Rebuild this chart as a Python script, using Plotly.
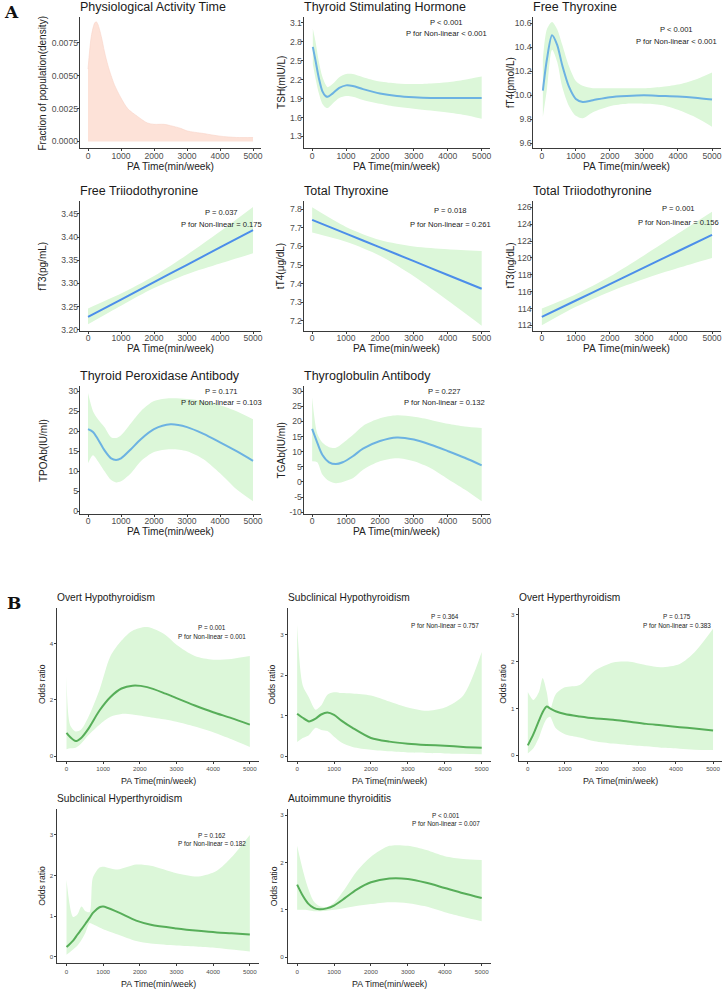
import plotly.graph_objects as go

W, H = 727, 991

# ---------------- data ----------------
dens_x = [0, 100, 200, 250, 300, 400, 500, 600, 700, 800, 1000, 1200, 1500, 1800, 2000, 2300, 2500, 2800, 3000, 3500, 4000, 4500, 5000]
dens_y = [0.0055, 0.0080, 0.0090, 0.0091, 0.0089, 0.0080, 0.0068, 0.0058, 0.0050, 0.0043, 0.0033, 0.0025, 0.0019, 0.0014, 0.0013, 0.0013, 0.0012, 0.0010, 0.0008, 0.0006, 0.0004, 0.0003, 0.0003]

tsh_x = [20, 100, 200, 300, 400, 460, 600, 800, 1000, 1200, 1500, 2000, 2500, 3000, 3500, 4000, 4500, 5000]
tsh_fit = [2.72, 2.50, 2.22, 2.02, 1.94, 1.93, 1.98, 2.07, 2.11, 2.10, 2.05, 1.98, 1.94, 1.92, 1.91, 1.91, 1.91, 1.91]
tsh_hi = [3.01, 2.80, 2.48, 2.25, 2.12, 2.08, 2.13, 2.24, 2.29, 2.29, 2.24, 2.17, 2.14, 2.13, 2.14, 2.16, 2.20, 2.25]
tsh_lo = [2.45, 2.22, 1.98, 1.82, 1.76, 1.75, 1.82, 1.91, 1.94, 1.93, 1.88, 1.82, 1.77, 1.74, 1.71, 1.68, 1.64, 1.58]

ft4_x = [30, 150, 300, 450, 600, 800, 1000, 1200, 1500, 2000, 2500, 3000, 3500, 4000, 4500, 5000]
ft4_fit = [10.04, 10.30, 10.50, 10.42, 10.25, 10.07, 9.97, 9.945, 9.96, 9.985, 9.995, 10.0, 9.995, 9.99, 9.98, 9.965]
ft4_hi = [10.30, 10.55, 10.61, 10.55, 10.42, 10.24, 10.12, 10.08, 10.06, 10.06, 10.06, 10.06, 10.07, 10.09, 10.13, 10.19]
ft4_lo = [9.82, 10.05, 10.38, 10.28, 10.07, 9.91, 9.83, 9.81, 9.86, 9.91, 9.93, 9.93, 9.92, 9.88, 9.82, 9.74]

ft3_x = [0, 1000, 2000, 3000, 4000, 5000]
ft3_fit = [3.228, 3.265, 3.303, 3.340, 3.378, 3.415]
ft3_hi = [3.246, 3.278, 3.316, 3.362, 3.412, 3.465]
ft3_lo = [3.212, 3.252, 3.290, 3.320, 3.343, 3.365]

tt4_x = [0, 1000, 2000, 3000, 4000, 5000]
tt4_fit = [7.743, 7.669, 7.595, 7.521, 7.447, 7.373]
tt4_hi = [7.81, 7.705, 7.635, 7.60, 7.585, 7.575]
tt4_lo = [7.675, 7.625, 7.55, 7.44, 7.31, 7.175]

tt3_x = [0, 1000, 2000, 3000, 4000, 5000]
tt3_fit = [113.0, 114.95, 116.9, 118.85, 120.8, 122.75]
tt3_hi = [114.0, 115.7, 117.8, 120.3, 122.9, 125.5]
tt3_lo = [112.0, 114.2, 116.0, 117.5, 118.8, 120.0]

tpo_x = [0, 150, 300, 500, 700, 850, 1000, 1300, 1600, 2000, 2500, 3000, 3500, 4000, 4500, 5000]
tpo_fit = [20.5, 19.8, 18.0, 15.2, 13.2, 12.8, 13.2, 15.5, 18.0, 20.5, 21.7, 21.0, 19.3, 17.2, 15.0, 12.6]
tpo_hi = [29.5, 25.0, 23.0, 21.0, 18.5, 18.3, 19.0, 22.0, 25.0, 27.5, 28.2, 28.0, 27.5, 26.5, 25.0, 23.0]
tpo_lo = [12.0, 14.0, 12.5, 10.0, 7.8, 7.2, 7.5, 9.5, 12.5, 14.8, 15.5, 15.0, 13.0, 9.5, 5.5, 2.5]

tga_x = [0, 150, 300, 500, 700, 900, 1200, 1500, 2000, 2500, 3000, 3500, 4000, 4500, 5000]
tga_fit = [17.5, 13.0, 9.0, 6.5, 5.9, 6.5, 8.5, 11.0, 13.5, 14.7, 14.0, 12.3, 10.2, 8.0, 5.5]
tga_hi = [28.0, 16.0, 13.0, 11.5, 11.3, 12.8, 15.5, 18.5, 21.0, 22.0, 21.5, 20.5, 19.2, 18.3, 17.8]
tga_lo = [6.8, 6.5, 2.5, 0.3, -0.4, 0.0, 1.2, 4.0, 6.8, 7.8, 6.8, 4.5, 1.0, -2.5, -6.4]

ohypo_x = [0, 100, 250, 400, 600, 900, 1200, 1500, 1800, 2200, 2700, 3000, 3500, 4000, 4500, 5000]
ohypo_fit = [0.83, 0.68, 0.54, 0.65, 0.98, 1.62, 2.10, 2.40, 2.50, 2.45, 2.22, 2.06, 1.80, 1.56, 1.35, 1.12]
ohypo_hi = [2.85, 1.10, 0.88, 0.95, 1.40, 2.35, 3.55, 4.10, 4.45, 4.58, 4.30, 3.95, 3.55, 3.42, 3.45, 3.55]
ohypo_lo = [0.25, 0.28, 0.30, 0.45, 0.75, 1.12, 1.40, 1.50, 1.48, 1.40, 1.30, 1.22, 1.05, 0.85, 0.60, 0.33]

shypo_x = [0, 150, 320, 500, 650, 820, 1000, 1200, 1500, 2000, 2500, 3000, 3500, 4000, 4500, 5000]
shypo_fit = [1.05, 0.95, 0.86, 0.93, 1.03, 1.08, 1.02, 0.88, 0.70, 0.45, 0.36, 0.31, 0.28, 0.26, 0.23, 0.21]
shypo_hi = [3.25, 1.75, 1.45, 1.15, 1.25, 1.52, 1.58, 1.56, 1.55, 1.50, 1.35, 1.20, 1.12, 1.20, 1.50, 2.57]
shypo_lo = [0.35, 0.45, 0.52, 0.70, 0.65, 0.62, 0.48, 0.34, 0.23, 0.16, 0.12, 0.09, 0.08, 0.07, 0.06, 0.05]

ohyper_x = [0, 150, 300, 400, 510, 600, 750, 1000, 1400, 1800, 2300, 2700, 3200, 3600, 4100, 4500, 5000]
ohyper_fit = [0.21, 0.45, 0.74, 0.92, 1.04, 1.00, 0.94, 0.88, 0.83, 0.79, 0.76, 0.72, 0.67, 0.64, 0.60, 0.57, 0.53]
ohyper_hi = [1.35, 1.18, 1.35, 1.65, 1.35, 0.98, 1.30, 1.45, 1.50, 1.80, 1.98, 2.00, 1.92, 1.88, 1.95, 2.20, 2.70]
ohyper_lo = [0.04, 0.15, 0.38, 0.60, 0.78, 0.82, 0.58, 0.45, 0.38, 0.30, 0.25, 0.22, 0.19, 0.16, 0.14, 0.12, 0.11]

shyper_x = [0, 180, 300, 410, 520, 630, 720, 900, 1000, 1400, 1900, 2300, 3000, 3600, 4100, 4500, 5000]
shyper_fit = [0.24, 0.40, 0.55, 0.68, 0.82, 0.96, 1.08, 1.22, 1.24, 1.10, 0.89, 0.79, 0.70, 0.64, 0.60, 0.58, 0.55]
shyper_hi = [1.90, 0.98, 1.05, 1.24, 1.12, 1.10, 1.95, 2.20, 2.22, 2.15, 2.27, 2.24, 2.06, 1.98, 2.12, 2.45, 3.00]
shyper_lo = [0.05, 0.18, 0.28, 0.42, 0.60, 0.83, 0.80, 0.72, 0.68, 0.55, 0.39, 0.33, 0.28, 0.25, 0.22, 0.18, 0.13]

ait_x = [0, 150, 300, 450, 600, 800, 1000, 1300, 1600, 2000, 2500, 3000, 3500, 4000, 4500, 5000]
ait_fit = [1.53, 1.30, 1.13, 1.04, 1.01, 1.03, 1.09, 1.25, 1.42, 1.58, 1.66, 1.65, 1.57, 1.46, 1.35, 1.25]
ait_hi = [2.35, 1.85, 1.45, 1.18, 1.08, 1.06, 1.15, 1.45, 1.80, 2.12, 2.35, 2.35, 2.26, 2.13, 2.07, 2.05]
ait_lo = [1.00, 1.00, 0.99, 0.97, 0.97, 0.98, 1.00, 1.04, 1.08, 1.12, 1.16, 1.14, 1.07, 0.95, 0.85, 0.76]

x_ticks = [0, 1000, 2000, 3000, 4000, 5000]

# ---------------- styling ----------------
FONT = "Liberation Sans, Arial, sans-serif"
BAND = "#DCF7D9"
BLUE_NL = "#6CB2E2"
BLUE_L = "#4C8EEA"
GREEN = "#57AE59"
DENS = "#FDE2D8"
AXC = "#3a3a3a"
TICKC = "#4d4d4d"

panels = [
    dict(key="dens", box=(80, 17, 262, 149), yr=(-0.00053, 0.00947), yt=[0, 0.0025, 0.005, 0.0075], fmt="{:.4f}", grp="A",
         title="Physiological Activity Time", ytitle="Fraction of population(density)", ytx=43, p=None),
    dict(key="tsh", box=(304.5, 17, 491.5, 149), yr=(1.111, 3.195), yt=[1.3, 1.6, 1.9, 2.2, 2.5, 2.8, 3.1], fmt="{:.1f}", grp="A",
         title="Thyroid Stimulating Hormone", ytitle="TSH(mIU/L)", ytx=282, p=("P < 0.001", "P for Non-linear < 0.001", 448, 23, 34),
         data=(tsh_x, tsh_fit, tsh_hi, tsh_lo), color=BLUE_NL),
    dict(key="ft4", box=(534.8, 17, 722.5, 149), yr=(9.559, 10.652), yt=[9.6, 9.8, 10.0, 10.2, 10.4, 10.6], fmt="{:.1f}", grp="A",
         title="Free Thyroxine", ytitle="fT4(pmol/L)", ytx=512, p=("P < 0.001", "P for Non-linear < 0.001", 678, 30, 42),
         data=(ft4_x, ft4_fit, ft4_hi, ft4_lo), color=BLUE_NL),
    dict(key="ft3", box=(80, 202, 262, 332), yr=(3.198, 3.4775), yt=[3.20, 3.25, 3.30, 3.35, 3.40, 3.45], fmt="{:.2f}", grp="A",
         title="Free Triiodothyronine", ytitle="fT3(pg/mL)", ytx=43, p=("P = 0.037", "P for Non-linear = 0.175", 222, 213, 225),
         data=(ft3_x, ft3_fit, ft3_hi, ft3_lo), color=BLUE_L),
    dict(key="tt4", box=(304.5, 202, 491.5, 332), yr=(7.148, 7.843), yt=[7.2, 7.3, 7.4, 7.5, 7.6, 7.7, 7.8], fmt="{:.1f}", grp="A",
         title="Total Thyroxine", ytitle="tT4(μg/dL)", ytx=282, p=("P = 0.018", "P for Non-linear = 0.261", 452, 211, 225),
         data=(tt4_x, tt4_fit, tt4_hi, tt4_lo), color=BLUE_L),
    dict(key="tt3", box=(534.8, 202, 722.5, 332), yr=(111.37, 126.745), yt=[112, 114, 116, 118, 120, 122, 124, 126], fmt="{:.0f}", grp="A",
         title="Total Triiodothyronine", ytitle="tT3(ng/dL)", ytx=512, p=("P = 0.001", "P for Non-linear = 0.156", 680, 209, 223),
         data=(tt3_x, tt3_fit, tt3_hi, tt3_lo), color=BLUE_L),
    dict(key="tpo", box=(80, 388, 262, 516), yr=(-0.67, 31.17), yt=[0, 5, 10, 15, 20, 25, 30], fmt="{:.0f}", grp="A",
         title="Thyroid Peroxidase Antibody", ytitle="TPOAb(IU/ml)", ytx=43, p=("P = 0.171", "P for Non-linear = 0.103", 222, 393, 404),
         data=(tpo_x, tpo_fit, tpo_hi, tpo_lo), color=BLUE_NL),
    dict(key="tga", box=(304.5, 388, 491.5, 516), yr=(-10.56, 31.55), yt=[-10, -5, 0, 5, 10, 15, 20, 25, 30], fmt="{:.0f}", grp="A",
         title="Thyroglobulin Antibody", ytitle="TGAb(IU/ml)", ytx=282, p=("P = 0.227", "P for Non-linear = 0.132", 446, 393, 404),
         data=(tga_x, tga_fit, tga_hi, tga_lo), color=BLUE_NL),
    dict(key="ohypo", box=(57.5, 610, 259.7, 764), yr=(-0.166, 5.27), yt=[0, 2, 4], fmt="{:.0f}", grp="B",
         title="Overt Hypothyroidism", ytitle="Odds ratio", ytx=42, p=("P = 0.001", "P for Non-linear = 0.001", 213, 630, 639),
         data=(ohypo_x, ohypo_fit, ohypo_hi, ohypo_lo), color=GREEN),
    dict(key="shypo", box=(288.7, 610, 492.3, 764), yr=(-0.116, 3.67), yt=[0, 1, 2, 3], fmt="{:.0f}", grp="B",
         title="Subclinical Hypothyroidism", ytitle="Odds ratio", ytx=273, p=("P = 0.364", "P for Non-linear = 0.757", 446, 619, 628),
         data=(shypo_x, shypo_fit, shypo_hi, shypo_lo), color=GREEN),
    dict(key="ohyper", box=(520, 610, 724.3, 764), yr=(-0.121, 3.155), yt=[0, 1, 2, 3], fmt="{:.0f}", grp="B",
         title="Overt Hyperthyroidism", ytitle="Odds ratio", ytx=505, p=("P = 0.175", "P for Non-linear = 0.383", 679, 619, 628),
         data=(ohyper_x, ohyper_fit, ohyper_hi, ohyper_lo), color=GREEN),
    dict(key="shyper", box=(57.5, 812, 259.7, 967), yr=(-0.154, 3.645), yt=[0, 1, 2, 3], fmt="{:.0f}", grp="B",
         title="Subclinical Hyperthyroidism", ytitle="Odds ratio", ytx=42, p=("P = 0.162", "P for Non-linear = 0.182", 213, 839, 847),
         data=(shyper_x, shyper_fit, shyper_hi, shyper_lo), color=GREEN),
    dict(key="ait", box=(288.7, 812, 492.3, 967), yr=(-0.126, 3.134), yt=[0, 1, 2, 3], fmt="{:.0f}", grp="B",
         title="Autoimmune thyroiditis", ytitle="Odds ratio", ytx=275, p=("P < 0.001", "P for Non-linear = 0.007", 447, 819, 827),
         data=(ait_x, ait_fit, ait_hi, ait_lo), color=GREEN),
]

STY = {
    "A": dict(tickfont=8.6, ticklen=2, lw=1.2, title=12.5, axtitle=10.2, ytitle=10, pfont=7.6, title_dy=-10, xt_dy=18, standoff=-3),
    "B": dict(tickfont=6.2, ticklen=2, lw=1.0, title=10.2, axtitle=8.8, ytitle=8.6, pfont=6.4, title_dy=-10, xt_dy=20.5, standoff=0),
}


def fx(px):
    return px / W


def fy(py):
    return 1 - py / H


fig = go.Figure()
layout = dict(width=W, height=H, margin=dict(l=0, r=0, t=0, b=0, pad=0),
              paper_bgcolor="white", plot_bgcolor="white", showlegend=False,
              font=dict(family=FONT, color="#333333"))
annotations = []

for i, p in enumerate(panels, start=1):
    s = STY[p["grp"]]
    l, t, r, b = p["box"]
    xa = "xaxis" if i == 1 else f"xaxis{i}"
    ya = "yaxis" if i == 1 else f"yaxis{i}"
    xr = f"x{i}" if i > 1 else "x"
    yr_ = f"y{i}" if i > 1 else "y"
    common = dict(showline=True, linecolor=AXC, linewidth=s["lw"], ticks="outside", ticklen=s["ticklen"],
                  tickcolor=AXC, tickwidth=s["lw"], showgrid=False, zeroline=False, ticklabelstandoff=s["standoff"],
                  tickfont=dict(size=s["tickfont"], color=TICKC, family=FONT), fixedrange=True)
    layout[xa] = dict(domain=[fx(l), fx(r)], range=[-250, 5250], anchor=yr_, tickmode="array",
                      tickvals=x_ticks, ticktext=[str(v) for v in x_ticks], **common)
    layout[ya] = dict(domain=[fy(b), fy(t)], range=list(p["yr"]), anchor=xr, tickmode="array",
                      tickvals=p["yt"], ticktext=[p["fmt"].format(v) for v in p["yt"]], **common)

    if p["key"] == "dens":
        fig.add_trace(go.Scatter(x=dens_x, y=dens_y, mode="lines", line=dict(width=0.6, color="#F8D4C8", shape="spline", smoothing=0.8),
                                 fill="tozeroy", fillcolor=DENS, xaxis=xr, yaxis=yr_, hoverinfo="skip"))
    else:
        xs, fit, hi, lo = p["data"]
        fig.add_trace(go.Scatter(x=xs, y=hi, mode="lines", line=dict(width=0, color=BAND, shape="spline", smoothing=0.8),
                                 xaxis=xr, yaxis=yr_, hoverinfo="skip"))
        fig.add_trace(go.Scatter(x=xs, y=lo, mode="lines", line=dict(width=0, color=BAND, shape="spline", smoothing=0.8),
                                 fill="tonexty", fillcolor=BAND, xaxis=xr, yaxis=yr_, hoverinfo="skip"))
        fig.add_trace(go.Scatter(x=xs, y=fit, mode="lines", line=dict(width=2.0, color=p["color"], shape="spline", smoothing=0.8),
                                 xaxis=xr, yaxis=yr_))

    annotations.append(dict(text=p["title"], x=fx(l - 2), y=fy(t + s["title_dy"]), xref="paper", yref="paper",
                            xanchor="left", yanchor="middle", showarrow=False,
                            font=dict(size=s["title"], color="#1a1a1a", family=FONT)))
    annotations.append(dict(text=p["ytitle"], x=fx(p["ytx"]), y=fy((t + b) / 2), xref="paper", yref="paper",
                            xanchor="center", yanchor="middle", textangle=-90, showarrow=False,
                            font=dict(size=s["ytitle"], color="#222222", family=FONT)))
    annotations.append(dict(text="PA Time(min/week)", x=fx((l + r) / 2), y=fy(b + s["xt_dy"]), xref="paper", yref="paper",
                            xanchor="center", yanchor="middle", showarrow=False,
                            font=dict(size=s["axtitle"], color="#222222", family=FONT)))
    if p["p"]:
        t1, t2, cx, y1, y2 = p["p"]
        for txt, yy in ((t1, y1), (t2, y2)):
            annotations.append(dict(text=txt, x=fx(cx), y=fy(yy), xref="paper", yref="paper",
                                    xanchor="center", yanchor="middle", showarrow=False,
                                    font=dict(size=s["pfont"], color="#222222", family=FONT)))

annotations.append(dict(text="<b>A</b>", x=fx(2), y=fy(12), xref="paper", yref="paper", xanchor="left", yanchor="middle",
                        showarrow=False, font=dict(size=17, color="#111111", family="DejaVu Serif, Liberation Serif, serif")))
annotations.append(dict(text="<b>B</b>", x=fx(5), y=fy(605), xref="paper", yref="paper", xanchor="left", yanchor="middle",
                        showarrow=False, font=dict(size=17, color="#111111", family="DejaVu Serif, Liberation Serif, serif")))

layout["annotations"] = annotations
fig.update_layout(**layout)
fig.write_html("out.html", config={"displayModeBar": False},
               post_script="document.body.style.margin='0px';document.body.style.overflow='hidden';")
